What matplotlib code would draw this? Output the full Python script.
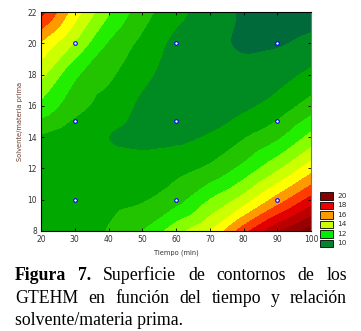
import numpy as np
import matplotlib
matplotlib.use("Agg")
import matplotlib.pyplot as plt
import matplotlib.tri as mtri
from matplotlib.patches import Rectangle
from matplotlib.colors import ListedColormap, BoundaryNorm

# ---- data ----
# experimental design points shown as markers
design_time = [30, 30, 30, 60, 60, 60, 90, 90, 90]
design_ratio = [10, 15, 20, 10, 15, 20, 10, 15, 20]

# surface (GTEHM) on a grid: one row per ratio value
tiempo = [20, 30, 40, 50, 60, 70, 80, 90, 100]
ratio = [8, 10, 12, 14, 16, 18, 20, 22]
z_r08 = [10.5, 10.7, 11.05, 12.0, 13.57, 15.0, 17.57, 19.8, 21.5]
z_r10 = [10.6, 10.6, 10.7, 10.9, 11.6, 13.0, 14.43, 16.42, 18.35]
z_r12 = [10.7, 10.5, 10.4, 10.4, 10.7, 11.2, 12.3, 13.8, 15.57]
z_r14 = [10.9, 10.4, 10.0, 9.8, 9.8, 10.1, 10.9, 11.8, 13.3]
z_r16 = [12.7, 11.4, 10.55, 9.85, 9.6, 9.55, 9.8, 10.4, 11.45]
z_r18 = [14.3, 12.2, 11.2, 10.25, 9.6, 9.4, 9.4, 9.65, 10.2]
z_r20 = [15.9, 13.9, 11.9, 10.75, 9.75, 9.35, 8.85, 8.9, 9.3]
z_r22 = [18.3, 15.5, 13.1, 11.45, 10.3, 9.5, 8.9, 8.6, 8.5]

legend_values = [20, 18, 16, 14, 12, 10]
x_ticks = [20, 30, 40, 50, 60, 70, 80, 90, 100]
y_ticks = [8, 10, 12, 14, 16, 18, 20, 22]
contour_levels = list(range(9, 23))

Z = np.array([z_r08, z_r10, z_r12, z_r14, z_r16, z_r18, z_r20, z_r22])
GX, GY = np.meshgrid(tiempo, ratio)

# smooth the read grid with matplotlib's triangulation refiner
tri = mtri.Triangulation(GX.ravel(), GY.ravel())
refiner = mtri.UniformTriRefiner(tri)
interp = mtri.CubicTriInterpolator(tri, Z.ravel(), kind='geom')
tri_f, z_f = refiner.refine_field(Z.ravel(), triinterpolator=interp, subdiv=4)

band_colors = ['#008a22', '#00a800', '#22c400', '#22ee00', '#88ff00', '#ccff00',
               '#ffff00', '#ff9900', '#ff3c00', '#e00000', '#bb0000', '#990000', '#800000']
cmap = ListedColormap(band_colors)
cmap.set_under('#006a3a')
cmap.set_over('#700000')
norm = BoundaryNorm(contour_levels, cmap.N)

W, H = 361, 331
fig = plt.figure(figsize=(W / 100, H / 100), dpi=100)
ax = fig.add_axes([41 / W, 1 - 231 / H, 270 / W, 219 / H])
ax.tricontourf(tri_f, z_f, levels=contour_levels, cmap=cmap, norm=norm, extend='both')
ax.plot(design_time, design_ratio, 'o', ms=2.6, mfc='white', mec='#0000ff', mew=0.8, ls='none')

ax.set_xlim(20, 100)
ax.set_ylim(8, 22)
ax.set_xticks(x_ticks)
ax.set_yticks(y_ticks)
ax.tick_params(direction='in', length=2.5, width=0.6, labelsize=5.5,
               top=True, right=True, labelcolor='#333333', pad=3)
for s in ax.spines.values():
    s.set_linewidth(0.8)
ax.spines['right'].set_color('#777777')
ax.set_xlabel('Tiempo (min)', fontsize=4.8, color='#333333', labelpad=4)
ax.set_ylabel('Solvente/materia prima', fontsize=4.8, color='#6b3a30', labelpad=3)

# ---- legend (manual boxes) ----
for i, (val, col) in enumerate(zip(legend_values,
                                   ['#880000', '#ee0000', '#ff9900', '#ccff00', '#00ee00', '#00872a'])):
    y0 = 192 + i * 9.5
    fig.patches.append(Rectangle((320 / W, 1 - (y0 + 7.5) / H), 13 / W, 7.5 / H,
                                 transform=fig.transFigure, facecolor=col,
                                 edgecolor='black', linewidth=0.6))
    fig.text(337 / W, 1 - (y0 + 3.9) / H, str(val), fontsize=5.3, color='#333333',
             va='center', ha='left')

# ---- caption (justified) ----
serif = ['Liberation Serif', 'DejaVu Serif']
fs = 12.8
lines = [
    [('Figura', 'bold'), ('7.', 'bold'), ('Superficie', 'normal'), ('de', 'normal'),
     ('contornos', 'normal'), ('de', 'normal'), ('los', 'normal')],
    [('GTEHM', 'normal'), ('en', 'normal'), ('función', 'normal'), ('del', 'normal'),
     ('tiempo', 'normal'), ('y', 'normal'), ('relación', 'normal')],
    [('solvente/materia prima.', 'normal')],
]
baselines = [280, 303, 325]
left, right = 15, 347
renderer = fig.canvas.get_renderer()
for words, base in zip(lines, baselines):
    texts = [fig.text(0, 1 - base / H, w, fontsize=fs, family=serif, weight=wt,
                      va='baseline', ha='left') for w, wt in words]
    widths = [tx.get_window_extent(renderer).width for tx in texts]
    gap = (right - left - sum(widths)) / (len(texts) - 1) if len(texts) > 1 else 0
    x = left
    for tx, wd in zip(texts, widths):
        tx.set_x(x / W)
        x += wd + gap

fig.savefig('out.png', dpi=100)
